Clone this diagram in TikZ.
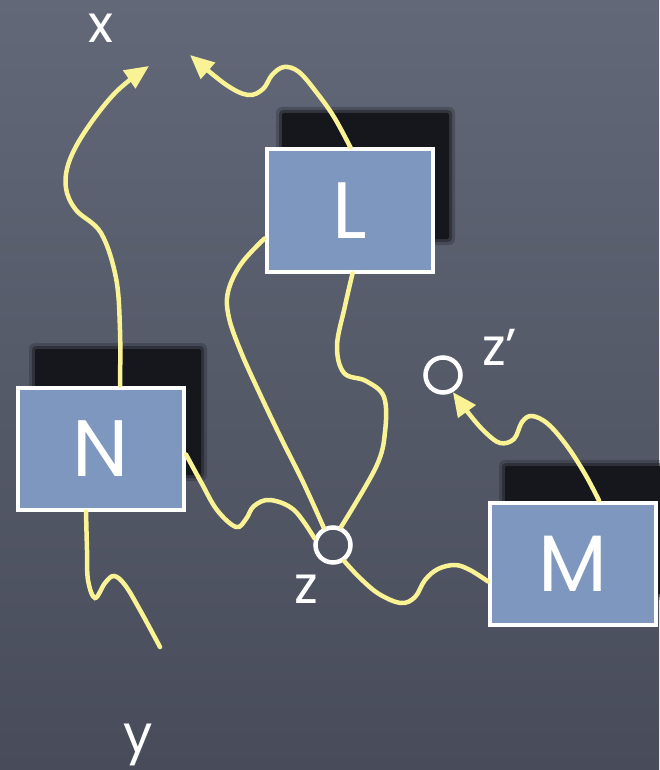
\documentclass[tikz,border=0pt]{standalone}
\usepackage{fontspec}
\setmainfont{Poppins}
\usetikzlibrary{arrows.meta,calc}
\definecolor{bgtop}{RGB}{98,104,120}
\definecolor{bgbot}{RGB}{72,76,90}
\definecolor{boxfill}{RGB}{126,151,190}
\definecolor{wire}{RGB}{250,243,150}
\definecolor{shadowc}{RGB}{22,23,28}
\begin{document}
\begin{tikzpicture}[x=1pt,y=-1pt,
  box/.style={draw=white,line width=4pt,fill=boxfill,minimum width=166pt,minimum height=122pt,inner sep=0pt,text=white,font=\fontsize{80}{80}\selectfont},
  ring/.style={circle,draw=white,line width=4.5pt,minimum size=35pt,inner sep=0pt},
  lbl/.style={text=white,font=\fontsize{52}{52}\selectfont,inner sep=0pt},
  wirestyle/.style={draw=wire,line width=4.5pt,line cap=round},
  tipped/.style={-{Triangle[length=24pt,width=21pt]}},
  shad/.style={fill=shadowc}]
\useasboundingbox (0,0) rectangle (659,770);
\shade[top color=bgtop,bottom color=bgbot] (0,0) rectangle (659,770);
% shadows
\foreach \a/\b/\c/\d in {281/112/450/240, 34/348/202/476, 504/465/670/595}{
  \fill[shadowc,opacity=0.25,rounded corners=6pt] (\a-5,\b-5) rectangle (\c+5,\d+5);
  \fill[shadowc,opacity=0.45,rounded corners=4pt] (\a-2,\b-2) rectangle (\c+2,\d+2);
  \fill[shadowc,rounded corners=2pt] (\a+1,\b+1) rectangle (\c-1,\d-1);
}
% boxes
\node[box] (L) at (349.5,210.5) {L};
\node[box] (N) at (101,448.5) {N};
\node[box] (M) at (573,563.5) {M};
% rings
\node[ring] (z) at (333,545) {};
\node[ring] (zp) at (443,375) {};
% labels
\node[lbl,anchor=base] (lx) at (101,43) {x};
\node[lbl,anchor=base] (ly) at (138,752) {y};
\node[lbl,anchor=base] (lz) at (306,603) {z};
\node[lbl,anchor=base west] (lzp) at (482,365) {z’};
% free ends
\coordinate (xa) at (149,66);
\coordinate (xb) at (190,55);
\coordinate (ye) at (160,647);
% connectors
\draw[wirestyle,tipped] plot[smooth,tension=0.6] coordinates {($(N.north)+(19,0)$) (120,330) (116,278) (101,233) (76,210) (66,188) (69,162) (86,130) (116,92) (xa)};
\draw[wirestyle,tipped] plot[smooth,tension=0.6] coordinates {($(L.north)+(1,0)$) (334,117) (317,93) (299,72) (284,67) (272,75) (263,89) (248,95) (225,84) (xb)};
\draw[wirestyle] plot[smooth,tension=0.6] coordinates {($(L.west)+(0,28)$) (241,264) (228,292) (229,318) (241,352) (259,392) (281,438) (303,482) (z.118)};
\draw[wirestyle] plot[smooth,tension=0.6] coordinates {($(L.south)+(3,0)$) (345,306) (337,346) (344,373) (366,381) (384,397) (385,432) (376,467) (z.66)};
\draw[wirestyle] plot[smooth,tension=0.6] coordinates {($(N.east)+(0,6)$) (201,482) (217,510) (236,527) (246,519) (254,506) (270,500) (294,510) (z.160)};
\draw[wirestyle] plot[smooth,tension=0.6] coordinates {(z.-55) (360,578) (379,594) (401,603) (415,597) (425,580) (438,569) (455,565) (470,570) ($(M.west)+(0,18)$)};
\draw[wirestyle] plot[smooth,tension=0.6] coordinates {($(N.south)+(-15,0)$) (87,550) (88,580) (95,598) (105,583) (114,576) (125,585) (140,610) (ye)};
\draw[wirestyle,tipped] plot[smooth,tension=0.6] coordinates {($(M.north)+(26,0)$) (585,474) (567,446) (548,424) (532,416) (522,422) (514,439) (500,443) (485,432) (470,415) (zp.-60)};
\end{tikzpicture}
\end{document}
